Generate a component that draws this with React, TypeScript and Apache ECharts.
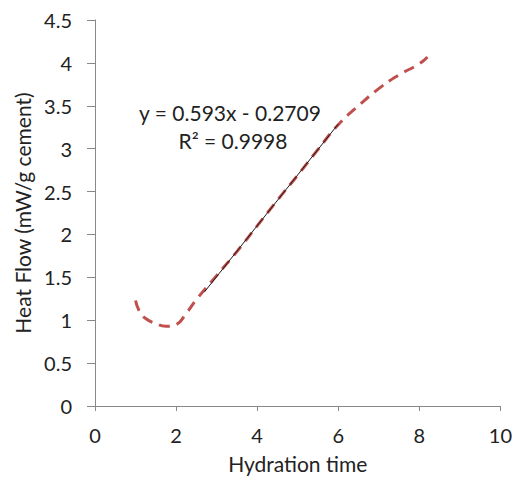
import React, { useEffect, useRef } from "react";
import * as echarts from "echarts";

const hydrationTime = [1.0, 1.1, 1.25, 1.5, 1.75, 2.0, 2.25, 2.5, 3.0, 3.5, 4.0, 4.5, 5.0, 5.5, 6.0, 6.5, 7.0, 7.5, 8.0, 8.2];
const heatFlow = [1.23, 1.1, 1.02, 0.96, 0.93, 0.95, 1.08, 1.24, 1.52, 1.8, 2.1, 2.4, 2.69, 2.99, 3.28, 3.5, 3.7, 3.86, 3.99, 4.07];
const trendSlope = 0.593;
const trendIntercept = -0.2709;
const trendRange = [2.7, 6.0];
const equationText = "y = 0.593x - 0.2709";
const r2Text = "R² = 0.9998";

const FONT = "Lato";

export default function App() {
  const ref = useRef<HTMLDivElement>(null);
  useEffect(() => {
    document.body.style.margin = "0";
    if (!ref.current) return;
    const chart = echarts.init(ref.current, null, { renderer: "svg" });
    const curve = hydrationTime.map((x, i) => [x, heatFlow[i]]);
    const trend = trendRange.map((x) => [x, trendSlope * x + trendIntercept]);
    chart.setOption({
      animation: false,
      grid: { left: 95, right: 14, top: 20, bottom: 71 },
      textStyle: { fontFamily: FONT },
      xAxis: {
        type: "value",
        min: 0,
        max: 10,
        interval: 2,
        name: "Hydration time",
        nameLocation: "middle",
        nameGap: 47,
        nameTextStyle: { fontFamily: FONT, fontSize: 21, color: "#222" },
        axisLine: { show: true, onZero: false, lineStyle: { color: "#888", width: 1 } },
        axisTick: { show: true, inside: false, length: 5, lineStyle: { color: "#888" } },
        axisLabel: { fontFamily: FONT, fontSize: 20, color: "#222", margin: 19 },
        splitLine: { show: false },
      },
      yAxis: {
        type: "value",
        min: 0,
        max: 4.5,
        interval: 0.5,
        name: "Heat Flow (mW/g cement)",
        nameLocation: "middle",
        nameGap: 59,
        nameTextStyle: { fontFamily: FONT, fontSize: 21, color: "#222" },
        axisLine: { show: true, lineStyle: { color: "#888", width: 1 } },
        axisTick: { show: true, inside: false, length: 8, lineStyle: { color: "#888" } },
        axisLabel: { fontFamily: FONT, fontSize: 20, color: "#222", margin: 23 },
        splitLine: { show: false },
      },
      graphic: [
        {
          type: "text",
          x: 230,
          y: 112,
          style: { text: equationText, font: `21px ${FONT}`, fill: "#222", align: "center", verticalAlign: "middle" },
        },
        {
          type: "text",
          x: 233,
          y: 140,
          style: { text: r2Text, font: `21px ${FONT}`, fill: "#222", align: "center", verticalAlign: "middle" },
        },
      ],
      series: [
        {
          type: "line",
          data: curve,
          smooth: true,
          showSymbol: false,
          lineStyle: { color: "#C0504D", width: 3, type: [11, 7] },
          z: 2,
        },
        {
          type: "line",
          data: trend,
          showSymbol: false,
          lineStyle: { color: "#1a1a1a", width: 1 },
          z: 3,
        },
      ],
    });
    return () => chart.dispose();
  }, []);
  return <div ref={ref} style={{ width: 515, height: 479 }} />;
}
